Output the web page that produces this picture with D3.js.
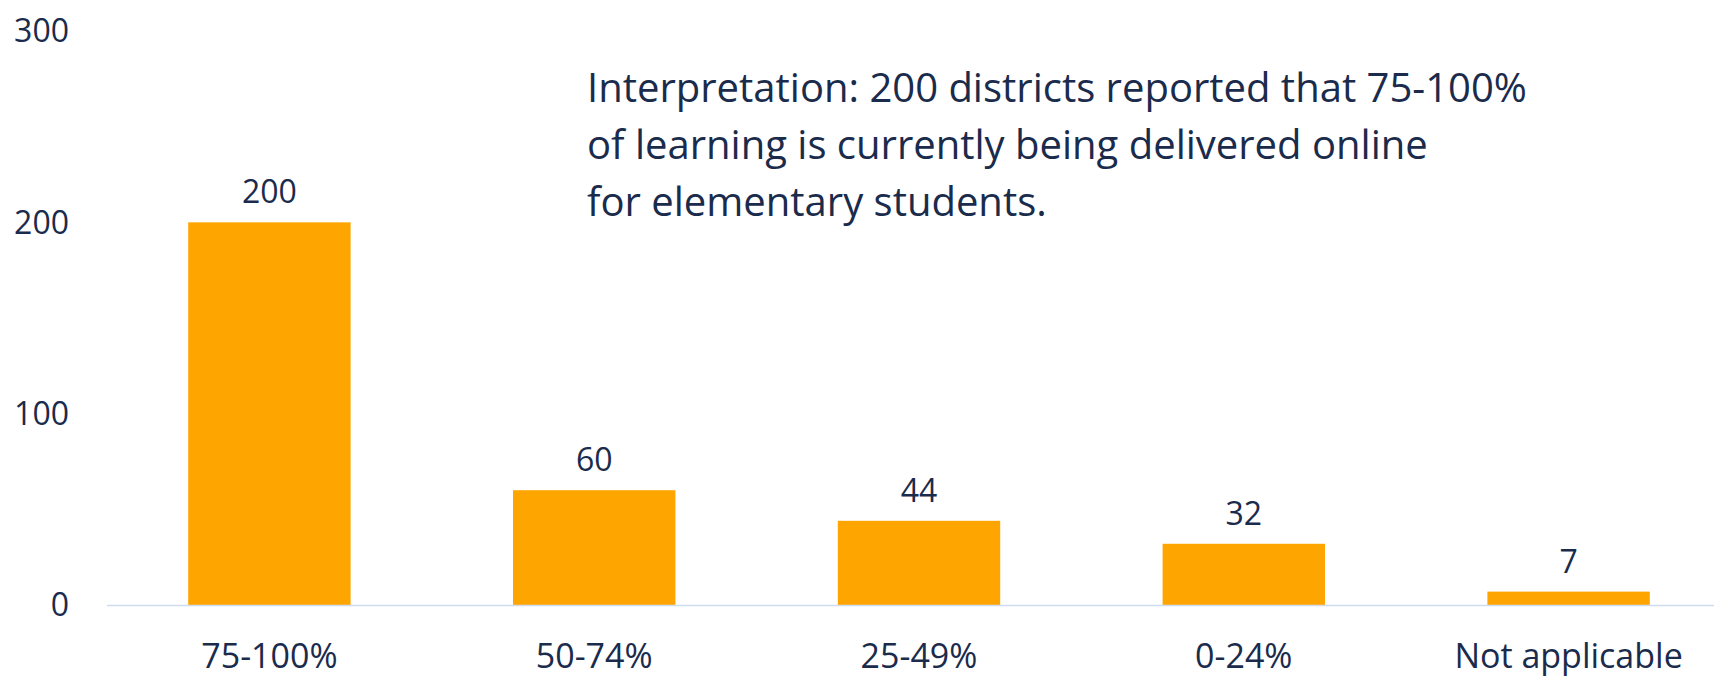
<!DOCTYPE html>
<html>
<head>
<meta charset="utf-8">
<script src="https://cdn.jsdelivr.net/npm/d3@7"></script>
<style>
    body { margin: 0; background: #fff; }
    text { font-family: "Open Sans", "Noto Sans", sans-serif; fill: #1a2b4c; }
</style>
</head>
<body>
<div id="chart"></div>
<script>
// data
const categories = ["75-100%", "50-74%", "25-49%", "0-24%", "Not applicable"];
const districts = [200, 60, 44, 32, 7];
const yTicks = [0, 100, 200, 300];
const noteLines = [
    "Interpretation: 200 districts reported that 75-100%",
    "of learning is currently being delivered online",
    "for elementary students."
];

const width = 1714, height = 676;
const margin = {top: 31, right: -17, bottom: 71, left: 107};

const svg = d3.select("#chart").append("svg")
    .attr("width", width)
    .attr("height", height);

const x = d3.scaleBand()
    .domain(categories)
    .range([margin.left, width - margin.right])
    .paddingInner(0.5)
    .paddingOuter(0.25);

const y = d3.scaleLinear()
    .domain([0, 300])
    .range([height - margin.bottom, margin.top]);

// y tick labels (no axis line)
svg.append("g")
    .selectAll("text")
    .data(yTicks)
    .join("text")
    .attr("x", 69)
    .attr("y", d => y(d))
    .attr("dy", "0.35em")
    .attr("text-anchor", "end")
    .style("font-size", "32px")
    .text(d => d);

// bars
svg.append("g")
    .selectAll("rect")
    .data(districts)
    .join("rect")
    .attr("x", (d, i) => x(categories[i]))
    .attr("y", d => y(d))
    .attr("width", x.bandwidth())
    .attr("height", d => y(0) - y(d))
    .attr("fill", "#ffa500");

// baseline
svg.append("line")
    .attr("x1", margin.left)
    .attr("x2", width)
    .attr("y1", y(0) + 0.5)
    .attr("y2", y(0) + 0.5)
    .attr("stroke", "#cfdcf0")
    .attr("stroke-width", 1.5);

// value labels
svg.append("g")
    .selectAll("text")
    .data(districts)
    .join("text")
    .attr("x", (d, i) => x(categories[i]) + x.bandwidth() / 2)
    .attr("y", d => y(d) - 19)
    .attr("text-anchor", "middle")
    .style("font-size", "32px")
    .text(d => d);

// category labels
svg.append("g")
    .selectAll("text")
    .data(categories)
    .join("text")
    .attr("x", d => x(d) + x.bandwidth() / 2)
    .attr("y", 668)
    .attr("text-anchor", "middle")
    .style("font-size", "34px")
    .text(d => d);

// interpretation note
svg.append("g")
    .selectAll("text")
    .data(noteLines)
    .join("text")
    .attr("x", 587)
    .attr("y", (d, i) => 102 + i * 57)
    .style("font-size", "40px")
    .text(d => d);
</script>
</body>
</html>
